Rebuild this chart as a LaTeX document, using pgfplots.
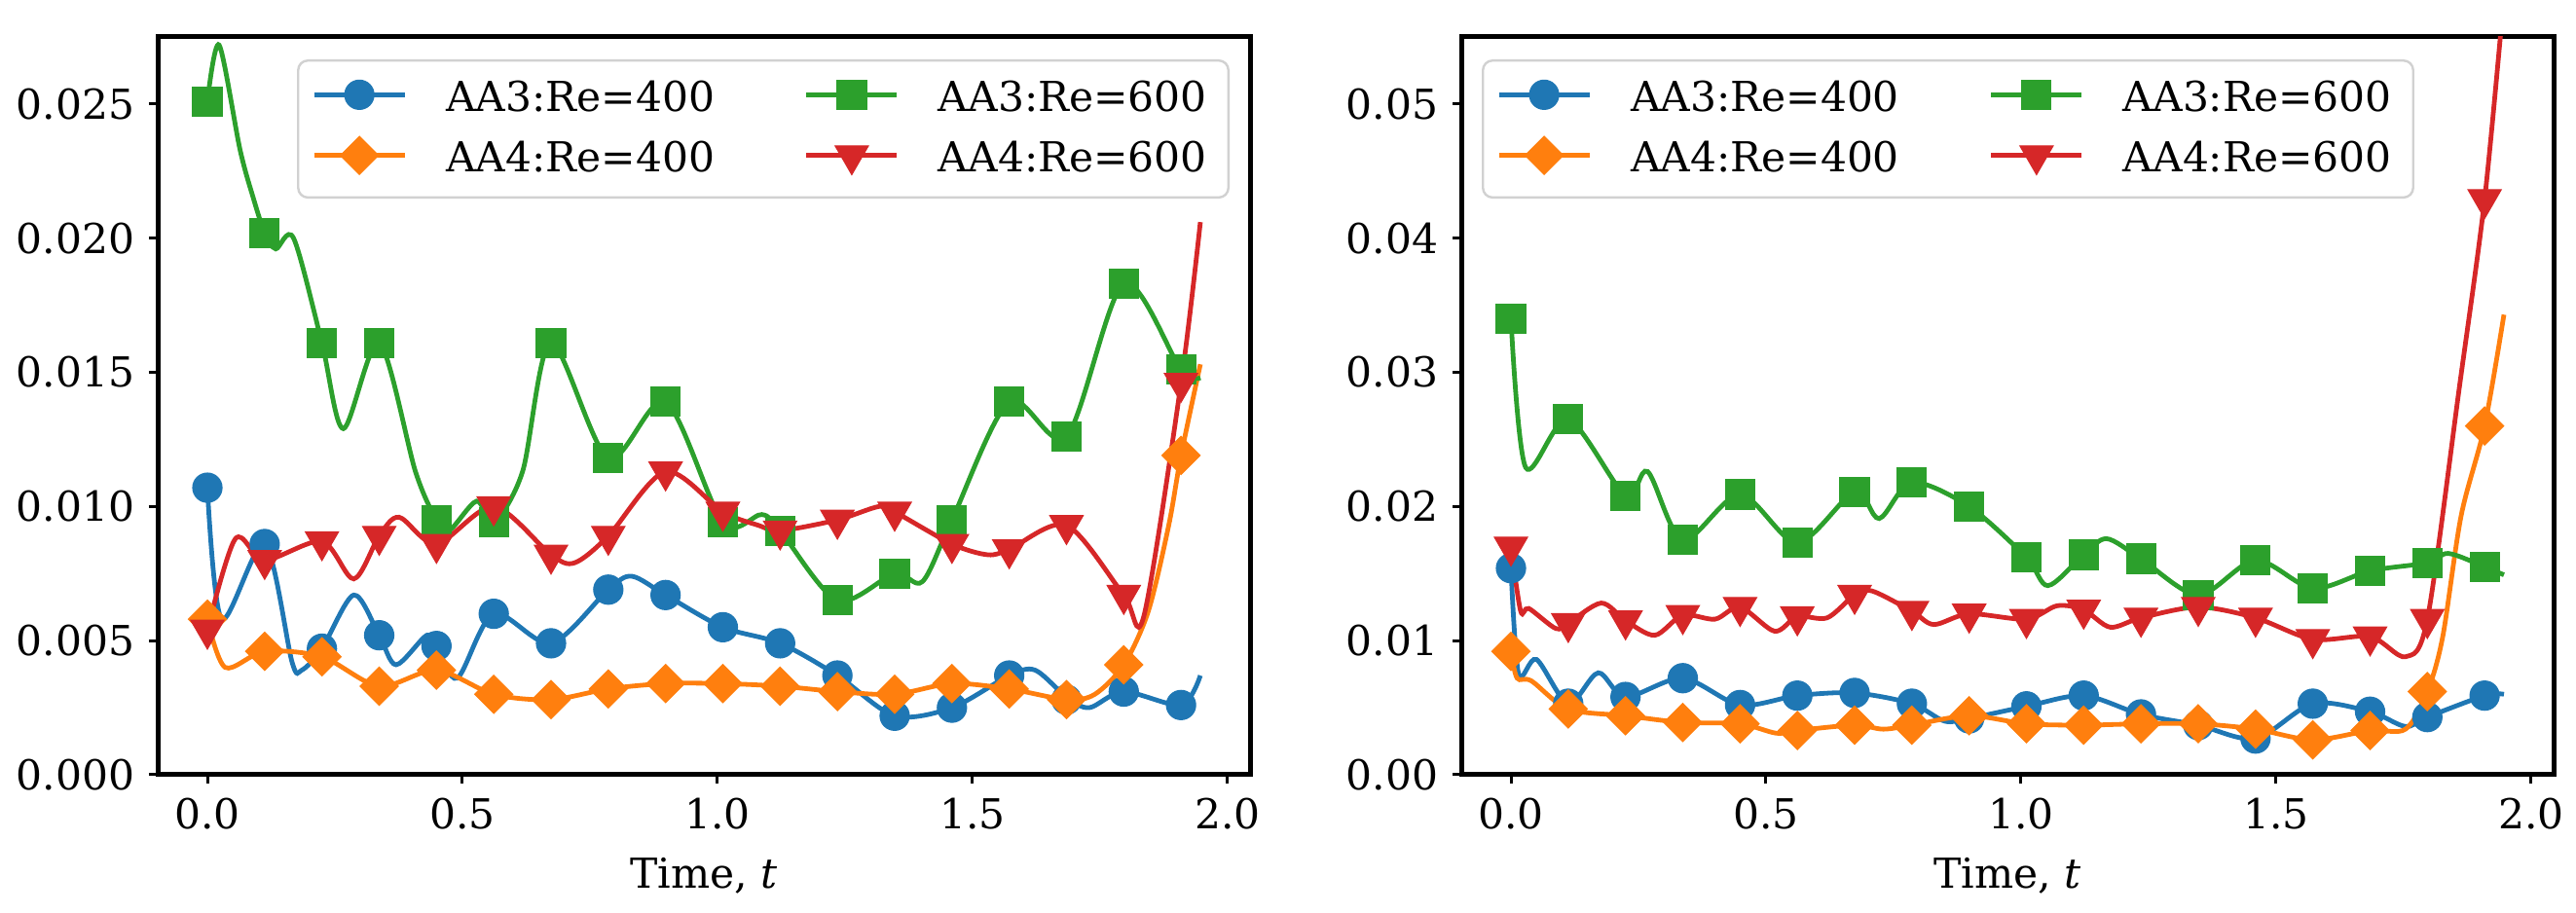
\documentclass[border=0pt]{standalone}
\usepackage{pgfplots}
\pgfplotsset{compat=1.18}
\usepackage{fontspec}
\setmainfont{DejaVu Serif}

\definecolor{C0}{HTML}{1F77B4}
\definecolor{C1}{HTML}{FF7F0E}
\definecolor{C2}{HTML}{2CA02C}
\definecolor{C3}{HTML}{D62728}
\newcommand\fs{\fontsize{10.6pt}{12.7pt}\selectfont}

\pgfplotsset{
  panel/.style={
    width=280.5pt, height=189.5pt, scale only axis,
    xmin=-0.0974, xmax=2.0444, ymin=0,
    xtick={0,0.5,1,1.5,2},
    scaled y ticks=false, scaled x ticks=false,
    /pgf/number format/assume math mode=true,
    xticklabel={\mbox{\fs\pgfmathprintnumber[fixed, fixed zerofill, precision=1,
      assume math mode=true]{\tick}}},
    tick pos=left, tick align=outside, major tick length=2.25pt,
    tick style={line width=0.75pt, black},
    axis line style={line width=1.25pt},
    tick label style={font=\fs},
    label style={font=\fs},
    xlabel={Time, \textit{t}},
    legend columns=2, transpose legend, legend cell align=left,
    legend style={
      draw=black!18, line width=0.6pt, rounded corners=2.5pt, fill=white,
      inner xsep=3.5pt, inner ysep=3pt, font=\fs, row sep=2pt,
      cells={anchor=west, inner sep=0pt, text height=8pt, text depth=2.5pt},
      /tikz/every odd column/.append style={column sep=8pt},
      /tikz/every even column/.append style={column sep=21pt},
    },
  },
  % smooth curve through the sampled points, no legend
  curve/.style={forget plot, smooth, line width=1.2pt, mark=none, color=#1},
  % legend picture: a line with the marker in the middle
  leg/.style={legend image code/.code={
      \draw[mark=none, solid, sharp corners, line width=1.2pt] (0pt,1pt) -- (23.25pt,1pt);
      \begin{scope}[overlay, sharp corners]
        \draw plot coordinates {(11.625pt,1pt)};
      \end{scope}
  }},
  mC0/.style={only marks, color=C0, mark=*, mark size=3.75pt,
    mark options={solid, fill=C0, line width=0.3pt}, leg},
  mC1/.style={only marks, color=C1, mark=square*, mark size=3.45pt,
    mark options={solid, fill=C1, line width=0.3pt, rotate=45}, leg},
  mC2/.style={only marks, color=C2, mark=square*, mark size=3.75pt,
    mark options={solid, fill=C2, line width=0.3pt}, leg},
  mC3/.style={only marks, color=C3, mark=triangle*, mark size=4.9pt,
    mark options={solid, fill=C3, line width=0.3pt, rotate=180}, leg},
}

\begin{document}
\fs
\begin{tikzpicture}
\useasboundingbox (-40.5pt,-35.5pt) rectangle (621pt,199pt);

% ---------------- left panel ----------------
\begin{axis}[panel, at={(0pt,0pt)}, ymax=0.0275,
  ytick={0,0.005,0.01,0.015,0.02,0.025},
  yticklabel={\mbox{\fs\pgfmathprintnumber[fixed, fixed zerofill, precision=3,
    assume math mode=true]{\tick}}},
  legend style={at={(1,1)}, anchor=north east, xshift=-5.25pt, yshift=-5.75pt}]

% AA3:Re=400
\addplot[curve=C0] coordinates {
  (0,0.0107) (0.028,0.0058) (0.1123,0.0086) (0.166,0.0042) (0.185,0.0039)
  (0.2246,0.0047) (0.287,0.0067) (0.3369,0.0052) (0.370,0.0041) (0.43,0.0052)
  (0.4492,0.0048) (0.49,0.0036) (0.5615,0.0060) (0.6738,0.0049) (0.7861,0.0069)
  (0.832,0.0074) (0.8984,0.0067) (1.0107,0.0055) (1.1230,0.0049) (1.2353,0.0037)
  (1.3476,0.0022) (1.4599,0.0025) (1.5722,0.0037) (1.623,0.0039) (1.6845,0.0029)
  (1.729,0.0025) (1.7968,0.0031) (1.9091,0.0026) (1.947,0.0037)
};
\addplot[mC0] coordinates {
  (0,0.0107) (0.1123,0.0086) (0.2246,0.0047) (0.3369,0.0052) (0.4492,0.0048)
  (0.5615,0.0060) (0.6738,0.0049) (0.7861,0.0069) (0.8984,0.0067) (1.0107,0.0055)
  (1.1230,0.0049) (1.2353,0.0037) (1.3476,0.0022) (1.4599,0.0025) (1.5722,0.0037)
  (1.6845,0.0028) (1.7968,0.0031) (1.9091,0.0026)
};
\addlegendentry{AA3:Re=400}

% AA4:Re=400
\addplot[curve=C1] coordinates {
  (0,0.0058) (0.035,0.0040) (0.1123,0.0046) (0.2246,0.0044) (0.3369,0.0033)
  (0.4492,0.0039) (0.5615,0.0030) (0.6738,0.0028) (0.7861,0.0032) (0.8984,0.0034)
  (1.0107,0.0034) (1.1230,0.0033) (1.2353,0.0031) (1.3476,0.0030) (1.4599,0.0034)
  (1.5722,0.0032) (1.6845,0.0028) (1.74,0.0030) (1.7968,0.0041) (1.845,0.0061)
  (1.885,0.0093) (1.9091,0.0119) (1.947,0.0153)
};
\addplot[mC1] coordinates {
  (0,0.0058) (0.1123,0.0046) (0.2246,0.0044) (0.3369,0.0033) (0.4492,0.0039)
  (0.5615,0.0030) (0.6738,0.0028) (0.7861,0.0032) (0.8984,0.0034) (1.0107,0.0034)
  (1.1230,0.0033) (1.2353,0.0031) (1.3476,0.0030) (1.4599,0.0034) (1.5722,0.0032)
  (1.6845,0.0028) (1.7968,0.0041) (1.9091,0.0119)
};
\addlegendentry{AA4:Re=400}

% AA3:Re=600
\addplot[curve=C2] coordinates {
  (0,0.0251) (0.023,0.0272) (0.064,0.0233) (0.09,0.0215) (0.1123,0.0202)
  (0.134,0.0196) (0.169,0.0200) (0.2246,0.0161) (0.2666,0.0129) (0.3369,0.0161)
  (0.408,0.0113) (0.4492,0.0095) (0.474,0.0091) (0.528,0.0102) (0.5615,0.0094)
  (0.618,0.0113) (0.6738,0.0161) (0.7861,0.0118) (0.8984,0.0139) (1.0107,0.0094)
  (1.087,0.0097) (1.1230,0.0091) (1.2353,0.0065) (1.3476,0.0075) (1.402,0.0072)
  (1.4599,0.0095) (1.5722,0.0139) (1.6845,0.0126) (1.7968,0.0183) (1.9091,0.0151)
  (1.947,0.0148)
};
\addplot[mC2] coordinates {
  (0,0.0251) (0.1123,0.0202) (0.2246,0.0161) (0.3369,0.0161) (0.4492,0.0095)
  (0.5615,0.0094) (0.6738,0.0161) (0.7861,0.0118) (0.8984,0.0139) (1.0107,0.0094)
  (1.1230,0.0091) (1.2353,0.0065) (1.3476,0.0075) (1.4599,0.0095) (1.5722,0.0139)
  (1.6845,0.0126) (1.7968,0.0183) (1.9091,0.0151)
};
\addlegendentry{AA3:Re=600}

% AA4:Re=600
\addplot[curve=C3] coordinates {
  (0,0.0054) (0.055,0.0088) (0.1123,0.0080) (0.2246,0.0087) (0.287,0.0073)
  (0.3369,0.0089) (0.376,0.0096) (0.4492,0.0086) (0.5615,0.0100) (0.6738,0.0082)
  (0.72,0.0079) (0.7861,0.0089) (0.8984,0.0113) (1.0107,0.0098) (1.08,0.0093)
  (1.1230,0.0091) (1.2353,0.0095) (1.317,0.0100) (1.3476,0.0098) (1.4599,0.0086)
  (1.53,0.0082) (1.5722,0.0084) (1.6845,0.0093) (1.7968,0.0067) (1.836,0.0059)
  (1.9091,0.0146) (1.947,0.0206)
};
\addplot[mC3] coordinates {
  (0,0.0054) (0.1123,0.0080) (0.2246,0.0087) (0.3369,0.0089) (0.4492,0.0086)
  (0.5615,0.0100) (0.6738,0.0082) (0.7861,0.0089) (0.8984,0.0113) (1.0107,0.0098)
  (1.1230,0.0091) (1.2353,0.0095) (1.3476,0.0098) (1.4599,0.0086) (1.5722,0.0084)
  (1.6845,0.0093) (1.7968,0.0067) (1.9091,0.0146)
};
\addlegendentry{AA4:Re=600}
\end{axis}

% ---------------- right panel ----------------
\begin{axis}[panel, at={(334.75pt,0pt)}, ymax=0.055,
  ytick={0,0.01,0.02,0.03,0.04,0.05},
  yticklabel={\mbox{\fs\pgfmathprintnumber[fixed, fixed zerofill, precision=2,
    assume math mode=true]{\tick}}},
  legend style={at={(0,1)}, anchor=north west, xshift=5.25pt, yshift=-5.75pt}]

% AA3:Re=400
\addplot[curve=C0] coordinates {
  (0,0.0154) (0.015,0.0075) (0.05,0.0086) (0.1123,0.0053) (0.171,0.0076)
  (0.2246,0.0058) (0.3369,0.0072) (0.4492,0.0052) (0.5615,0.0059) (0.6738,0.0061)
  (0.7861,0.0053) (0.85,0.0040) (0.8984,0.0042) (1.0107,0.0051) (1.1230,0.0059)
  (1.2353,0.0045) (1.3476,0.0037) (1.4599,0.0027) (1.5722,0.0053) (1.6845,0.0047)
  (1.754,0.0036) (1.7968,0.0043) (1.9091,0.0059) (1.947,0.0060)
};
\addplot[mC0] coordinates {
  (0,0.0154) (0.1123,0.0053) (0.2246,0.0058) (0.3369,0.0072) (0.4492,0.0052)
  (0.5615,0.0059) (0.6738,0.0061) (0.7861,0.0053) (0.8984,0.0042) (1.0107,0.0051)
  (1.1230,0.0059) (1.2353,0.0045) (1.3476,0.0037) (1.4599,0.0027) (1.5722,0.0053)
  (1.6845,0.0047) (1.7968,0.0043) (1.9091,0.0059)
};
\addlegendentry{AA3:Re=400}

% AA4:Re=400
\addplot[curve=C1] coordinates {
  (0,0.0092) (0.012,0.0072) (0.04,0.0070) (0.1123,0.0049) (0.2246,0.0044)
  (0.3369,0.0039) (0.4492,0.0038) (0.52,0.0031) (0.5615,0.0033) (0.6738,0.0037)
  (0.73,0.0034) (0.7861,0.0037) (0.8984,0.0044) (1.0107,0.0038) (1.1230,0.0037)
  (1.2353,0.0038) (1.3476,0.0038) (1.4599,0.0034) (1.5722,0.0026) (1.6845,0.0033)
  (1.754,0.0034) (1.7968,0.0062) (1.827,0.0103) (1.863,0.0193) (1.9091,0.0260)
  (1.947,0.0343)
};
\addplot[mC1] coordinates {
  (0,0.0092) (0.1123,0.0049) (0.2246,0.0044) (0.3369,0.0039) (0.4492,0.0038)
  (0.5615,0.0033) (0.6738,0.0037) (0.7861,0.0037) (0.8984,0.0044) (1.0107,0.0038)
  (1.1230,0.0037) (1.2353,0.0038) (1.3476,0.0038) (1.4599,0.0034) (1.5722,0.0026)
  (1.6845,0.0033) (1.7968,0.0062) (1.9091,0.0260)
};
\addlegendentry{AA4:Re=400}

% AA3:Re=600
\addplot[curve=C2] coordinates {
  (0,0.0340) (0.029,0.0229) (0.1123,0.0265) (0.2246,0.0208) (0.268,0.0226)
  (0.3369,0.0175) (0.4492,0.0209) (0.5615,0.0173) (0.6738,0.0211) (0.722,0.0191)
  (0.7861,0.0218) (0.8984,0.0200) (1.0107,0.0162) (1.053,0.0141) (1.1230,0.0164)
  (1.168,0.0176) (1.2353,0.0161) (1.3476,0.0134) (1.4599,0.0160) (1.5722,0.0139)
  (1.6845,0.0152) (1.7968,0.0158) (1.838,0.0165) (1.9091,0.0155) (1.947,0.0149)
};
\addplot[mC2] coordinates {
  (0,0.0340) (0.1123,0.0265) (0.2246,0.0208) (0.3369,0.0175) (0.4492,0.0209)
  (0.5615,0.0173) (0.6738,0.0211) (0.7861,0.0218) (0.8984,0.0200) (1.0107,0.0162)
  (1.1230,0.0164) (1.2353,0.0161) (1.3476,0.0134) (1.4599,0.0160) (1.5722,0.0139)
  (1.6845,0.0152) (1.7968,0.0158) (1.9091,0.0155)
};
\addlegendentry{AA3:Re=600}

% AA4:Re=600
\addplot[curve=C3] coordinates {
  (0,0.0170) (0.019,0.0122) (0.035,0.0124) (0.088,0.0109) (0.1123,0.0113)
  (0.177,0.0128) (0.2246,0.0115) (0.282,0.0104) (0.3369,0.0119) (0.40,0.0116)
  (0.4492,0.0125) (0.517,0.0107) (0.5615,0.0118) (0.62,0.0117) (0.6738,0.0134)
  (0.708,0.0137) (0.7861,0.0122) (0.829,0.0112) (0.8984,0.0120) (1.0107,0.0116)
  (1.071,0.0126) (1.1230,0.0123) (1.175,0.0110) (1.2353,0.0117) (1.3476,0.0125)
  (1.4599,0.0117) (1.5722,0.0101) (1.6845,0.0103) (1.754,0.0088) (1.7968,0.0116)
  (1.86,0.0290) (1.9091,0.0429) (1.947,0.0580)
};
\addplot[mC3] coordinates {
  (0,0.0170) (0.1123,0.0113) (0.2246,0.0115) (0.3369,0.0119) (0.4492,0.0125)
  (0.5615,0.0118) (0.6738,0.0134) (0.7861,0.0122) (0.8984,0.0120) (1.0107,0.0116)
  (1.1230,0.0123) (1.2353,0.0117) (1.3476,0.0125) (1.4599,0.0117) (1.5722,0.0101)
  (1.6845,0.0103) (1.7968,0.0116) (1.9091,0.0429)
};
\addlegendentry{AA4:Re=600}
\end{axis}
\end{tikzpicture}
\end{document}
